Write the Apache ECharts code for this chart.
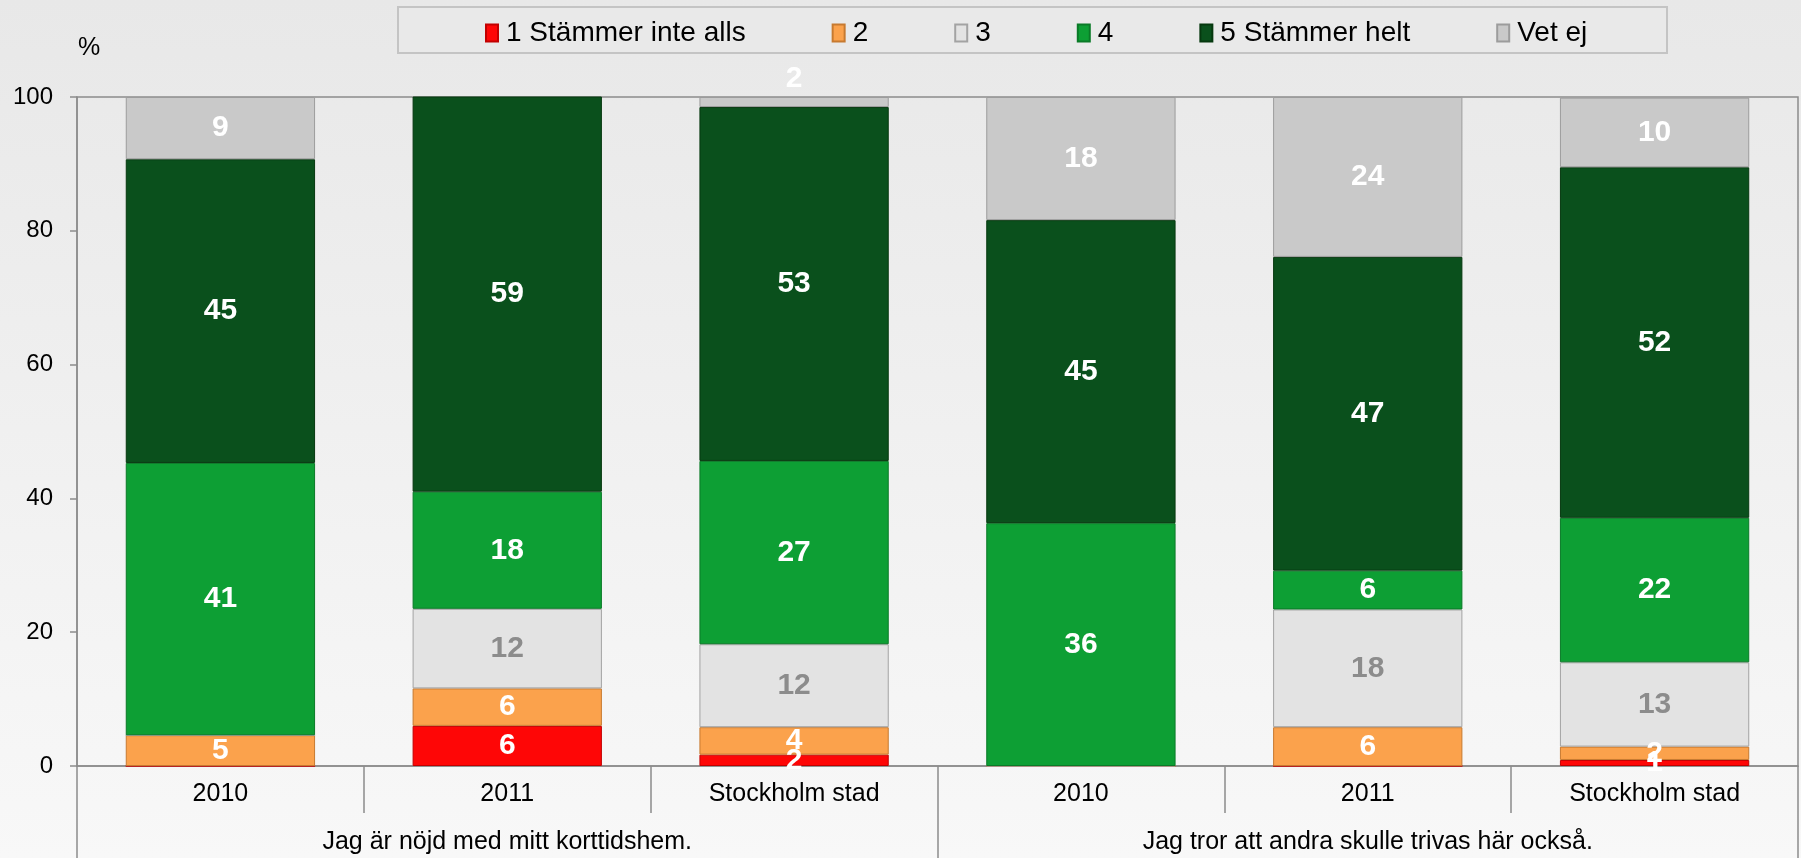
<!DOCTYPE html>
<html>
<head>
<meta charset="utf-8">
<title>Korttidshem</title>
<script src="https://cdn.jsdelivr.net/npm/echarts@6/dist/echarts.min.js"></script>
<style>
    html, body { margin: 0; padding: 0; }
    #main { width: 1801px; height: 858px; }
</style>
</head>
<body>
<div id="main"></div>
<script>
// data
var categories = ['2010', '2011', 'Stockholm stad', '2010', '2011', 'Stockholm stad'];
var groups = ['Jag är nöjd med mitt korttidshem.', 'Jag tror att andra skulle trivas här också.'];
var seriesNames = ['1 Stämmer inte alls', '2', '3', '4', '5 Stämmer helt', 'Vet ej'];
var s1 = [0, 6.0, 1.7, 0, 0, 0.9];
var s2 = [4.6, 5.6, 4.1, 0, 5.8, 2.0];
var s3 = [0, 11.9, 12.4, 0, 17.6, 12.6];
var s4 = [40.7, 17.5, 27.4, 36.3, 5.8, 21.6];
var s5 = [45.4, 59.1, 52.9, 45.3, 46.9, 52.4];
var vetEj = [9.3, 0, 1.5, 18.4, 23.9, 10.4];
var yTicks = [0, 20, 40, 60, 80, 100];

var values = [s1, s2, s3, s4, s5, vetEj];
var colors = ['#fe0606', '#fba24c', '#e3e3e3', '#0d9f34', '#0a501c', '#c9c9c9'];
var borders = ['#c20000', '#c77a30', '#a3a3a3', '#0a7a27', '#06380f', '#9c9c9c'];
var labelColors = ['#fff', '#fff', '#8c8c8c', '#fff', '#fff', '#fff'];

var myChart = echarts.init(document.getElementById('main'));

var series = seriesNames.map(function (name, i) {
    return {
        name: name,
        type: 'bar',
        stack: 'total',
        barWidth: '66%',
        itemStyle: {
            color: colors[i],
            borderColor: borders[i],
            borderWidth: 1
        },
        label: {
            show: true,
            position: 'inside',
            color: labelColors[i],
            fontSize: 30,
            fontWeight: 'bold',
            formatter: function (p) {
                return p.value > 0 ? Math.round(p.value) : '';
            }
        },
        data: values[i].map(function (v) {
            // tiny "Vet ej" slice gets its label above the bar
            if (i === 5 && v > 0 && v < 3) {
                return { value: v, label: { position: 'top', distance: 3 } };
            }
            return v;
        })
    };
});

var axisColor = '#8c8c8c';

var option = {
    backgroundColor: new echarts.graphic.LinearGradient(0, 0, 0, 1, [
        { offset: 0, color: '#e8e8e8' },
        { offset: 1, color: '#f8f8f8' }
    ]),
    textStyle: { fontFamily: 'Liberation Sans, Arial, sans-serif' },
    animation: false,
    title: {
        text: '%',
        left: 73,
        top: 31,
        textStyle: { fontSize: 25, fontWeight: 'normal', color: '#000' }
    },
    graphic: [{
        type: 'rect',
        left: 397,
        top: 6,
        z: 0,
        shape: { width: 1269, height: 46 },
        style: { fill: '#e9e9e9', stroke: '#c4c4c4', lineWidth: 2 }
    }],
    legend: {
        data: seriesNames,
        left: 480,
        top: 14,
        icon: 'rect',
        itemWidth: 12,
        itemHeight: 17,
        itemGap: 86,
        textStyle: { fontSize: 28, color: '#000', padding: [0, 0, 0, 3] }
    },
    grid: [{
        left: 77,
        right: 3,
        top: 97,
        bottom: 92,
        show: true,
        borderColor: axisColor,
        borderWidth: 1.5,
        backgroundColor: 'transparent'
    }, {
        // strip under the plot that carries the group labels
        left: 77,
        right: 3,
        top: 766,
        bottom: 0
    }],
    xAxis: [{
        type: 'category',
        data: categories,
        position: 'bottom',
        axisLine: { show: true, lineStyle: { color: axisColor, width: 1.5 } },
        axisTick: { show: true, interval: 0, length: 47, lineStyle: { color: axisColor, width: 1.5 } },
        axisLabel: { interval: 0, fontSize: 25, color: '#000', margin: 16 }
    }, {
        // group separators, running down to the bottom edge
        type: 'category',
        data: groups,
        position: 'bottom',
        axisLine: { show: false },
        axisTick: { show: true, interval: 0, length: 92, lineStyle: { color: axisColor, width: 1.5 } },
        axisLabel: { show: false }
    }, {
        // group labels
        type: 'category',
        gridIndex: 1,
        data: groups,
        position: 'top',
        axisLine: { show: false },
        axisTick: { show: false },
        axisLabel: { inside: true, interval: 0, fontSize: 25, color: '#000', margin: 64 }
    }],
    yAxis: [{
        type: 'value',
        min: yTicks[0],
        max: yTicks[yTicks.length - 1],
        interval: yTicks[1] - yTicks[0],
        axisLine: { show: true, lineStyle: { color: axisColor, width: 1.5 } },
        axisTick: { show: true, length: 7, lineStyle: { color: axisColor, width: 1.5 } },
        splitLine: { show: false },
        axisLabel: { fontSize: 24, color: '#000', margin: 24 }
    }, {
        type: 'value',
        gridIndex: 1,
        show: false
    }],
    series: series
};

myChart.setOption(option);
</script>
</body>
</html>
